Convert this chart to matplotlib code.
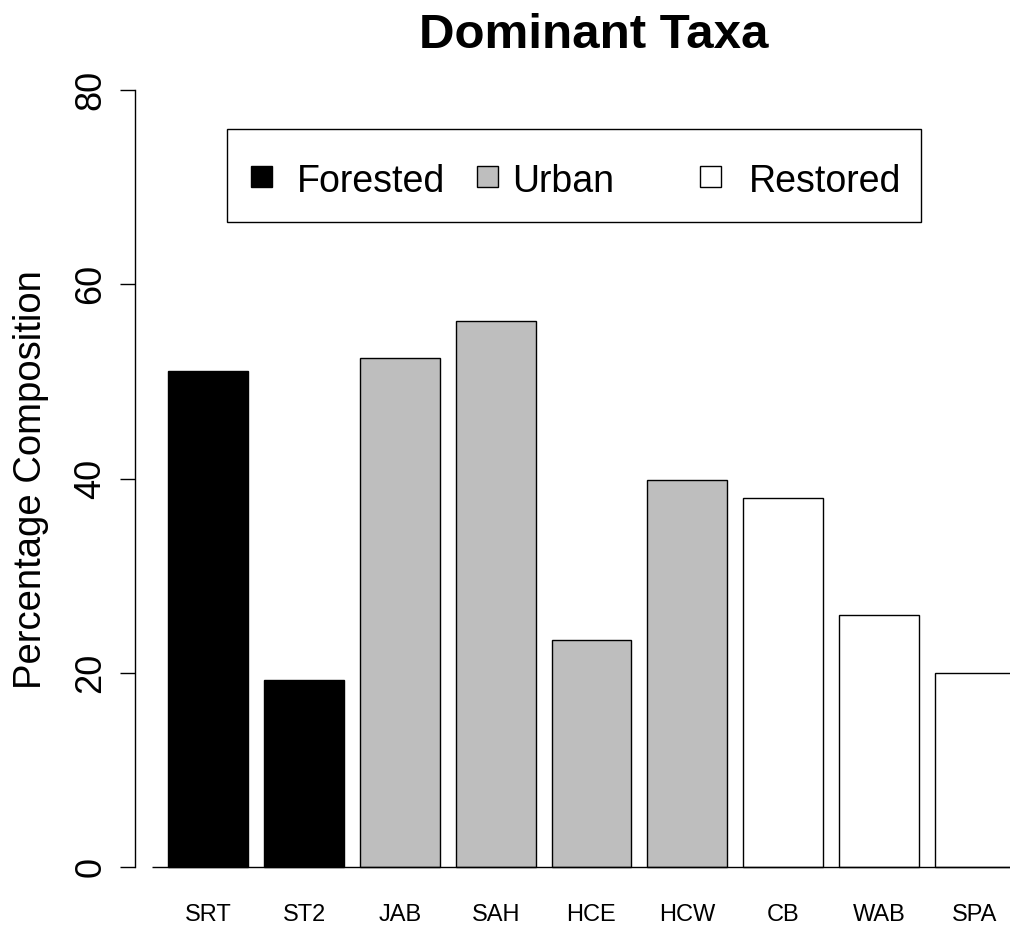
import matplotlib
matplotlib.use("Agg")
import matplotlib.pyplot as plt
from matplotlib.patches import Rectangle
import numpy as np

plt.rcParams['font.family'] = ['Liberation Sans', 'DejaVu Sans']

# data
sites = ["SRT", "ST2", "JAB", "SAH", "HCE", "HCW", "CB", "WAB", "SPA"]
percent = [51.1, 19.2, 52.4, 56.2, 23.4, 39.8, 38.0, 25.9, 20.0]
habitat = ["Forested", "Forested", "Urban", "Urban", "Urban", "Urban",
           "Restored", "Restored", "Restored"]
habitat_names = ["Forested", "Urban", "Restored"]
habitat_colors = {"Forested": "black", "Urban": "#BEBEBE", "Restored": "white"}
yticks = [0, 20, 40, 60, 80]

W, H = 1010, 932
fig = plt.figure(figsize=(W / 100, H / 100), dpi=100)

def fx(px):
    return px / W

def fy(py):
    return 1 - py / H

# R-style barplot geometry: width 1, space 0.2, 4% axis padding
x = 0.7 + 1.2 * np.arange(len(sites))
xlim = (-0.224, 11.224)
ylim = (-3.2, 83.2)

left, right, top, bottom = 134.5, 1048.5, 59, 898
ax = fig.add_axes([fx(left), fy(bottom), (right - left) / W, (bottom - top) / H])
ax.set_xlim(*xlim)
ax.set_ylim(*ylim)

cols = [habitat_colors[h] for h in habitat]
ax.bar(x, percent, width=1.0, color=cols, edgecolor="black", linewidth=1.0)
ax.hlines(0, 0, xlim[1], color="black", linewidth=1.0)

for s in ["top", "right", "bottom"]:
    ax.spines[s].set_visible(False)
ax.spines["left"].set_bounds(0, 80)
ax.spines["left"].set_linewidth(1.0)

ax.set_yticks(yticks)
ax.set_yticklabels([str(v) for v in yticks], rotation=90, va="center")
ax.tick_params(axis="y", length=10.8, width=1.0, pad=8, labelsize=26)
ax.set_xticks(x)
ax.set_xticklabels(sites)
ax.tick_params(axis="x", length=0, pad=4, labelsize=17)

fig.text(fx(31), fy(480), "Percentage Composition", rotation=90,
         ha="center", va="center", fontsize=27.5)
fig.text(fx(594), fy(47.7), "Dominant Taxa", ha="center", va="baseline",
         fontsize=35.5, fontweight="bold")

# legend, drawn by hand to copy the R horizontal layout
fig.patches.append(Rectangle((fx(227), fy(222)), fx(921) - fx(227), fy(129) - fy(222),
                             transform=fig.transFigure, facecolor="white",
                             edgecolor="black", linewidth=1.0))
sq_x = [251, 477, 700]
txt_x = [297, 512, 749]
for name, sx, tx in zip(habitat_names, sq_x, txt_x):
    fig.patches.append(Rectangle((fx(sx), fy(187)), fx(21), 21 / H,
                                 transform=fig.transFigure,
                                 facecolor=habitat_colors[name],
                                 edgecolor="black", linewidth=1.0))
    fig.text(fx(tx), fy(191.5), name, ha="left", va="baseline", fontsize=27)

fig.savefig("out.png", dpi=100)
